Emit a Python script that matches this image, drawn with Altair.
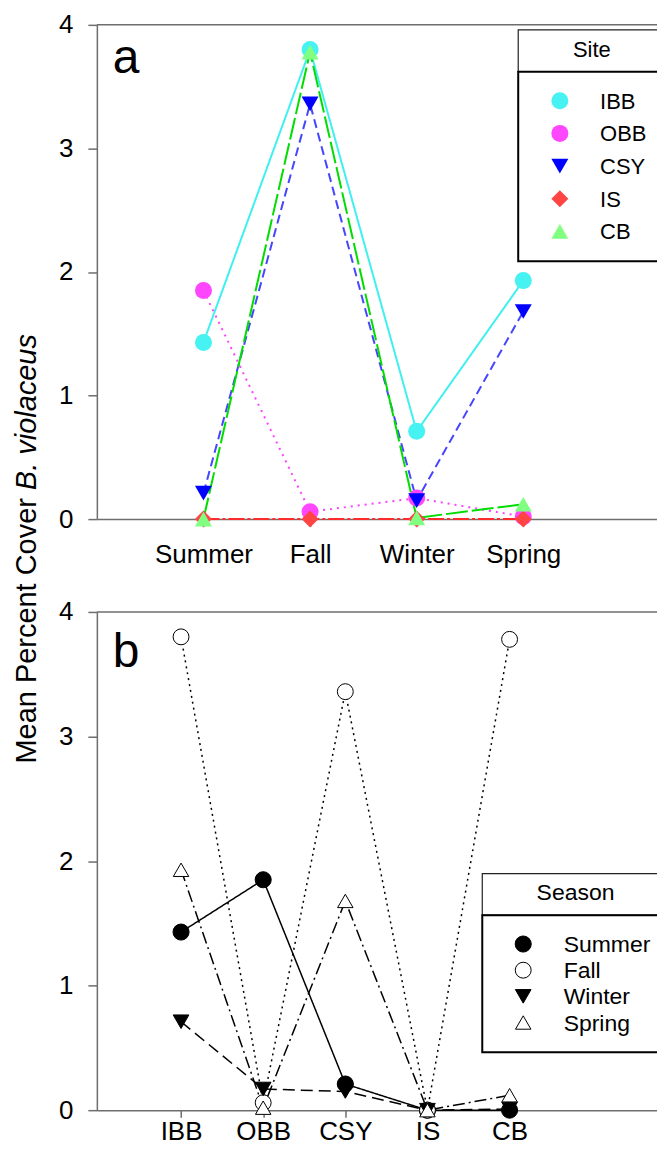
import json
import pandas as pd
import altair as alt

sites = ["IBB", "OBB", "CSY", "IS", "CB"]
seasons = ["Summer", "Fall", "Winter", "Spring"]

# mean percent cover of B. violaceus, one list per site in season order
ibb = [1.43, 3.80, 0.71, 1.93]
obb = [1.85, 0.06, 0.17, 0.02]
csy = [0.21, 3.36, 0.15, 1.68]
is_ = [0.0, 0.0, 0.0, 0.0]
cb = [0.0, 3.78, 0.01, 0.12]

site_fill = ["#46f2f2", "#ff46ff", "#0000ff", "#ff4444", "#80ff80"]
site_line = ["#40f0f0", "#ff40ff", "#4646ff", "#ff2a2a", "#00dd00"]
site_shape = ["circle", "circle", "triangle-down", "diamond", "triangle-up"]
site_size = [290, 290, 270, 400, 270]
site_dash = [[1, 0], [2, 5], [9, 5], [16, 3, 3, 3], [22, 4]]

season_fill = ["black", "white", "black", "white"]
season_shape = ["circle", "circle", "triangle-down", "triangle-up"]
season_size = [260, 240, 240, 240]
season_dash = [[1, 0], [2, 4], [12, 6], [12, 4, 2, 4]]

FONT = "Liberation Sans, Arial, sans-serif"
GRAY = "#6e6e6e"
W = 568
HA = 495
HB = 499

rows = []
for i, (site, vals) in enumerate(zip(sites, [ibb, obb, csy, is_, cb])):
    for j, (season, v) in enumerate(zip(seasons, vals)):
        rows.append({"site": site, "season": season, "site_pos": i + 1,
                     "season_pos": j + 1, "cover": v, "si": i, "sj": j})
df = pd.DataFrame(rows)
df_a = df.sort_values(["si", "sj"])
df_b = df.sort_values(["sj", "si"])
one = pd.DataFrame({"k": [0]})

y_axis = alt.Axis(values=[0, 1, 2, 3, 4], format="d", tickSize=9,
                  labelPadding=15, title=None)


def x_axis(labels, pad):
    return alt.Axis(values=list(range(1, len(labels) + 1)), tickSize=7,
                    labelPadding=pad, title=None, labelAngle=0,
                    labelExpr=json.dumps([""] + labels) + "[datum.value]")


def anchor(x, y):
    # invisible 1px box that fixes the outer bounds of the whole figure
    return alt.Chart(one).mark_rect(opacity=0).encode(
        x=alt.value(x), x2=alt.value(x + 1), y=alt.value(y), y2=alt.value(y + 1))


def legend_box(x1, y1, y2, y3, title, tx, ty, size):
    tbox = alt.Chart(one).mark_rect(fill="white", stroke="#222222", strokeWidth=1.2).encode(
        x=alt.value(x1), x2=alt.value(W + 10), y=alt.value(y1), y2=alt.value(y2))
    ibox = alt.Chart(one).mark_rect(fill="white", stroke="black", strokeWidth=2).encode(
        x=alt.value(x1), x2=alt.value(W + 10), y=alt.value(y2), y2=alt.value(y3))
    ttxt = alt.Chart(one).mark_text(text=title, fontSize=size, align="center",
                                    baseline="middle").encode(
        x=alt.value(tx), y=alt.value(ty))
    return [tbox, ibox, ttxt]


def frame_bits(letter, ly):
    top = alt.Chart(one).mark_rule(color=GRAY, strokeWidth=1.5).encode(
        x=alt.value(0), x2=alt.value(W), y=alt.value(0))
    lab = alt.Chart(one).mark_text(text=letter, fontSize=48, align="left",
                                   baseline="alphabetic").encode(
        x=alt.value(16), y=alt.value(ly))
    return [top, lab]


# ---- panel a: cover by season, one line per site
xa = alt.X("season_pos:Q", scale=alt.Scale(domain=[0, 5.32]), axis=x_axis(seasons, 15))
ya = alt.Y("cover:Q", scale=alt.Scale(domain=[0, 4]), axis=y_axis)

lines_a = alt.Chart(df_a).mark_line(strokeWidth=2).encode(
    x=xa, y=ya,
    stroke=alt.Stroke("site:N", scale=alt.Scale(domain=sites, range=site_line), legend=None),
    strokeDash=alt.StrokeDash("site:N", scale=alt.Scale(domain=sites, range=site_dash), legend=None),
)
site_enc = dict(
    fill=alt.Fill("site:N", scale=alt.Scale(domain=sites, range=site_fill), legend=None),
    shape=alt.Shape("site:N", scale=alt.Scale(domain=sites, range=site_shape), legend=None),
    size=alt.Size("site:N", scale=alt.Scale(domain=sites, range=site_size), legend=None),
)
points_a = alt.Chart(df_a).mark_point(filled=True, opacity=1, strokeWidth=0).encode(
    x=xa, y=ya, **site_enc)

leg_a = pd.DataFrame({"site": sites, "rank": list(range(len(sites)))})
leg_pts_a = alt.Chart(leg_a).transform_calculate(
    py="76 + 32.7 * datum.rank"
).mark_point(filled=True, opacity=1, strokeWidth=0).encode(
    x=alt.value(463.7), y=alt.Y("py:Q", scale=None, axis=None), **site_enc)
leg_txt_a = alt.Chart(leg_a).transform_calculate(
    py="77 + 32.7 * datum.rank"
).mark_text(align="left", baseline="middle", fontSize=22).encode(
    x=alt.value(504), y=alt.Y("py:Q", scale=None, axis=None), text="site:N")

ytitle1 = alt.Chart(one).mark_text(text="Mean Percent Cover", angle=270, align="right",
                                   baseline="alphabetic", fontSize=29).encode(
    x=alt.value(-61), y=alt.value(474))
ytitle2 = alt.Chart(one).mark_text(text="B. violaceus", angle=270, align="left",
                                   baseline="alphabetic", fontSize=29,
                                   fontStyle="italic").encode(
    x=alt.value(-61), y=alt.value(466))

panel_a = alt.layer(
    anchor(-89, -16), *frame_bits("a", 48), lines_a, points_a,
    *legend_box(422, 5, 47, 236.7, "Site", 495.7, 25.3, 22),
    leg_pts_a, leg_txt_a, ytitle1, ytitle2,
).properties(width=W, height=HA)

# ---- panel b: cover by site, one line per season
xb = alt.X("site_pos:Q", scale=alt.Scale(domain=[-0.025, 6.88]), axis=x_axis(sites, 1))
yb = alt.Y("cover:Q", scale=alt.Scale(domain=[0, 4]), axis=y_axis)

lines_b = alt.Chart(df_b).mark_line(strokeWidth=1.5, color="black").encode(
    x=xb, y=yb, detail="season:N",
    strokeDash=alt.StrokeDash("season:N", scale=alt.Scale(domain=seasons, range=season_dash), legend=None),
)
season_enc = dict(
    fill=alt.Fill("season:N", scale=alt.Scale(domain=seasons, range=season_fill), legend=None),
    shape=alt.Shape("season:N", scale=alt.Scale(domain=seasons, range=season_shape), legend=None),
    size=alt.Size("season:N", scale=alt.Scale(domain=seasons, range=season_size), legend=None),
)
points_b = alt.Chart(df_b).mark_point(filled=True, opacity=1, stroke="black", strokeWidth=1).encode(
    x=xb, y=yb, **season_enc)

leg_b = pd.DataFrame({"season": seasons, "rank": list(range(len(seasons)))})
leg_pts_b = alt.Chart(leg_b).transform_calculate(
    py="332.6 + 26.2 * datum.rank"
).mark_point(filled=True, opacity=1, stroke="black", strokeWidth=1).encode(
    x=alt.value(427), y=alt.Y("py:Q", scale=None, axis=None), **season_enc)
leg_txt_b = alt.Chart(leg_b).transform_calculate(
    py="333.6 + 26.2 * datum.rank"
).mark_text(align="left", baseline="middle", fontSize=23).encode(
    x=alt.value(467.5), y=alt.Y("py:Q", scale=None, axis=None), text="season:N")

panel_b = alt.layer(
    anchor(603, 567), *frame_bits("b", 55), lines_b, points_b,
    *legend_box(386, 262, 303.7, 441, "Season", 479.4, 281, 23),
    leg_pts_b, leg_txt_b,
).properties(width=W, height=HB)

# negative right/bottom padding crops the figure at the window edge like the original
chart = alt.vconcat(panel_a, panel_b, spacing=93, bounds="flush").resolve_scale(
    fill="independent", shape="independent", size="independent", strokeDash="independent"
).properties(
    padding={"left": 0, "top": 0, "right": -43, "bottom": -35}
).configure_view(
    stroke=None
).configure_axis(
    grid=False, labelFont=FONT, labelFontSize=26, labelColor="black",
    domainColor=GRAY, tickColor=GRAY, domainWidth=1.5, tickWidth=1.5,
).configure_text(
    font=FONT, color="black"
)

chart.save("out.html", embed_options={"renderer": "svg", "actions": False})
